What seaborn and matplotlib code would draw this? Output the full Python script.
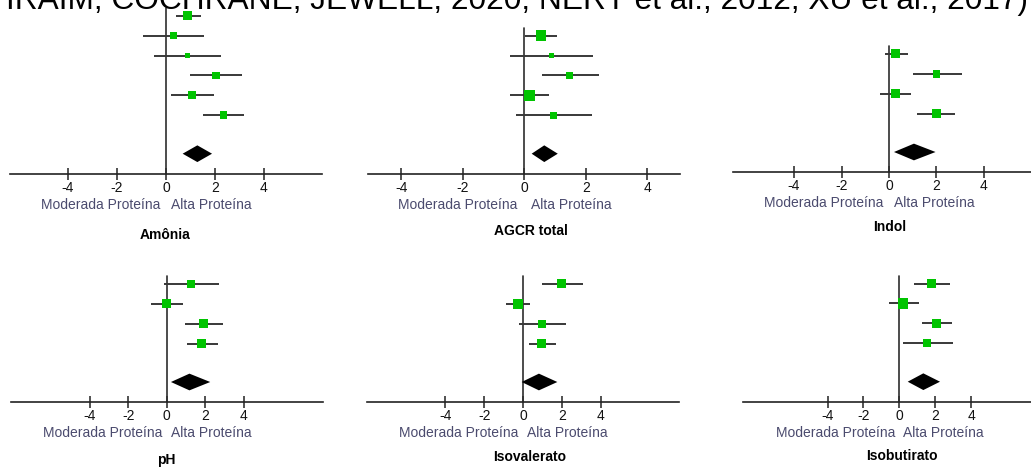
import numpy as np
import pandas as pd
import matplotlib
matplotlib.use("Agg")
import matplotlib.pyplot as plt
import seaborn as sns

sns.set_style("white")
plt.rcParams["font.family"] = ["Liberation Sans", "DejaVu Sans"]

# ---------------- data ----------------
titulos = ["Amônia", "AGCR total", "Indol", "pH", "Isovalerato", "Isobutirato"]
rotulo_esq = "Moderada Proteína"
rotulo_dir = "Alta Proteína"
ticks = [-4, -2, 0, 2, 4]
tick_labels = ["-4", "-2", "0", "2", "4"]
citacao = "IRAIM, COCHRANE, JEWELL, 2020; NERY et al., 2012; XU et al., 2017)"

amonia_est = [0.87, 0.31, 0.87, 2.04, 1.06, 2.35]
amonia_lo = [0.40, -0.95, -0.48, 0.99, 0.19, 1.52]
amonia_hi = [1.42, 1.55, 2.23, 3.09, 1.95, 3.20]
amonia_peso = [7, 5, 4, 6, 6, 6]
amonia_total = [0.68, 1.28, 1.88]

agcr_est = [0.54, 0.88, 1.48, 0.16, 0.95]
agcr_lo = [0.02, -0.47, 0.58, -0.47, -0.27]
agcr_hi = [1.05, 2.25, 2.43, 0.79, 2.21]
agcr_peso = [8, 4, 5.5, 8.5, 5]
agcr_total = [0.24, 0.65, 1.09]

indol_est = [0.29, 2.00, 0.28, 1.99]
indol_lo = [-0.17, 1.02, -0.36, 1.20]
indol_hi = [0.78, 3.07, 0.91, 2.77]
indol_peso = [7, 6, 7, 7]
indol_total = [0.21, 1.05, 1.96]

ph_est = [1.25, 0.00, 1.89, 1.82]
ph_lo = [-0.16, -0.83, 0.94, 1.06]
ph_hi = [2.74, 0.87, 2.92, 2.64]
ph_peso = [6, 7, 7, 7]
ph_total = [0.22, 1.18, 2.26]

isoval_est = [1.98, -0.27, 0.98, 0.94]
isoval_lo = [0.98, -0.89, -0.22, 0.31]
isoval_hi = [3.07, 0.34, 2.23, 1.70]
isoval_peso = [7, 8, 6, 7]
isoval_total = [-0.07, 0.82, 1.77]

isobut_est = [1.81, 0.21, 2.07, 1.56]
isobut_lo = [0.84, -0.59, 1.28, 0.21]
isobut_hi = [2.83, 1.08, 2.93, 2.98]
isobut_peso = [7, 8, 7, 6]
isobut_total = [0.47, 1.34, 2.27]

paineis = [
    (amonia_est, amonia_lo, amonia_hi, amonia_peso, amonia_total),
    (agcr_est, agcr_lo, agcr_hi, agcr_peso, agcr_total),
    (indol_est, indol_lo, indol_hi, indol_peso, indol_total),
    (ph_est, ph_lo, ph_hi, ph_peso, ph_total),
    (isoval_est, isoval_lo, isoval_hi, isoval_peso, isoval_total),
    (isobut_est, isobut_lo, isobut_hi, isobut_peso, isobut_total),
]

# ---------------- layout (pixels) ----------------
W, H = 1031, 468
zero_x = [166, 524.3, 889, 166.7, 523, 899.3]
axis_y = [174, 174, 172.3, 402.3, 402.3, 402]
x_lim = [6.37, 5.08, 6.57, 8.1, 8.04, 8.7]
title_dy = [61, 57, 55, 58, 55, 54]
title_dx = [-1, 7, 1, 0, 7, 3]
half_w = 156
row_px = 19.9

fig = plt.figure(figsize=(W / 100, H / 100), dpi=100)

verde = "#00c400"
linha = "#383838"
cor_rot = "#4b4b6e"

for k, (est, lo, hi, peso, total) in enumerate(paineis):
    n = len(est)
    ybot = n + 1.95
    ytop = -0.6
    h_px = (ybot - ytop) * row_px
    ax = fig.add_axes([(zero_x[k] - half_w) / W, (H - axis_y[k]) / H,
                       2 * half_w / W, h_px / H])
    ax.set_xlim(-x_lim[k], x_lim[k])
    ax.set_ylim(ybot, ytop)
    ax.patch.set_alpha(0)

    df = pd.DataFrame({"est": est, "lo": lo, "hi": hi, "peso": peso,
                       "row": np.arange(n)})

    ax.hlines(df["row"], df["lo"], df["hi"], color=linha, lw=1.4, zorder=2)
    ax.axvline(0, ymin=0, ymax=(ybot + 0.4) / (ybot - ytop), color="#2e2e2e",
               lw=1.2, zorder=1)
    tamanhos = {p: (p * 0.72 * 1.3) ** 2 for p in df["peso"].unique()}
    sns.scatterplot(data=df, x="est", y="row", size="peso", sizes=tamanhos,
                    marker="s", color=verde, edgecolor="none", linewidth=0,
                    legend=False, ax=ax, zorder=3)

    yd = n - 1 + 1.93
    ax.fill([total[0], total[1], total[2], total[1]],
            [yd, yd - 0.42, yd, yd + 0.42], color="black", lw=0, zorder=3)

    for s in ["left", "top", "right"]:
        ax.spines[s].set_visible(False)
    ax.spines["bottom"].set_color("#222222")
    ax.spines["bottom"].set_linewidth(1.2)
    ax.set_yticks([])
    ax.set_xticks(ticks)
    ax.set_xticklabels(tick_labels)
    ax.tick_params(axis="x", bottom=True, direction="inout", length=9,
                   width=1.1, color="#222222", labelsize=10, pad=0.5,
                   labelcolor="#111111")
    ax.set_xlabel("")
    ax.set_ylabel("")

    ax.annotate(rotulo_esq, xy=(-0.22, 0), xycoords=("data", "axes fraction"),
                xytext=(0, -31), textcoords="offset pixels", ha="right",
                va="center", fontsize=10, color=cor_rot)
    ax.annotate(rotulo_dir, xy=(0.22, 0), xycoords=("data", "axes fraction"),
                xytext=(0, -31), textcoords="offset pixels", ha="left",
                va="center", fontsize=10, color=cor_rot)
    ax.annotate(titulos[k], xy=(0, 0), xycoords=("data", "axes fraction"),
                xytext=(title_dx[k], -title_dy[k]), textcoords="offset pixels",
                ha="center", va="center", fontsize=10, fontweight="bold",
                color="black")

fig.text(1028 / W, 1 - 9.3 / H, citacao, ha="right", va="baseline",
         fontsize=22.8, color="black")

fig.savefig("out.png", dpi=100)
